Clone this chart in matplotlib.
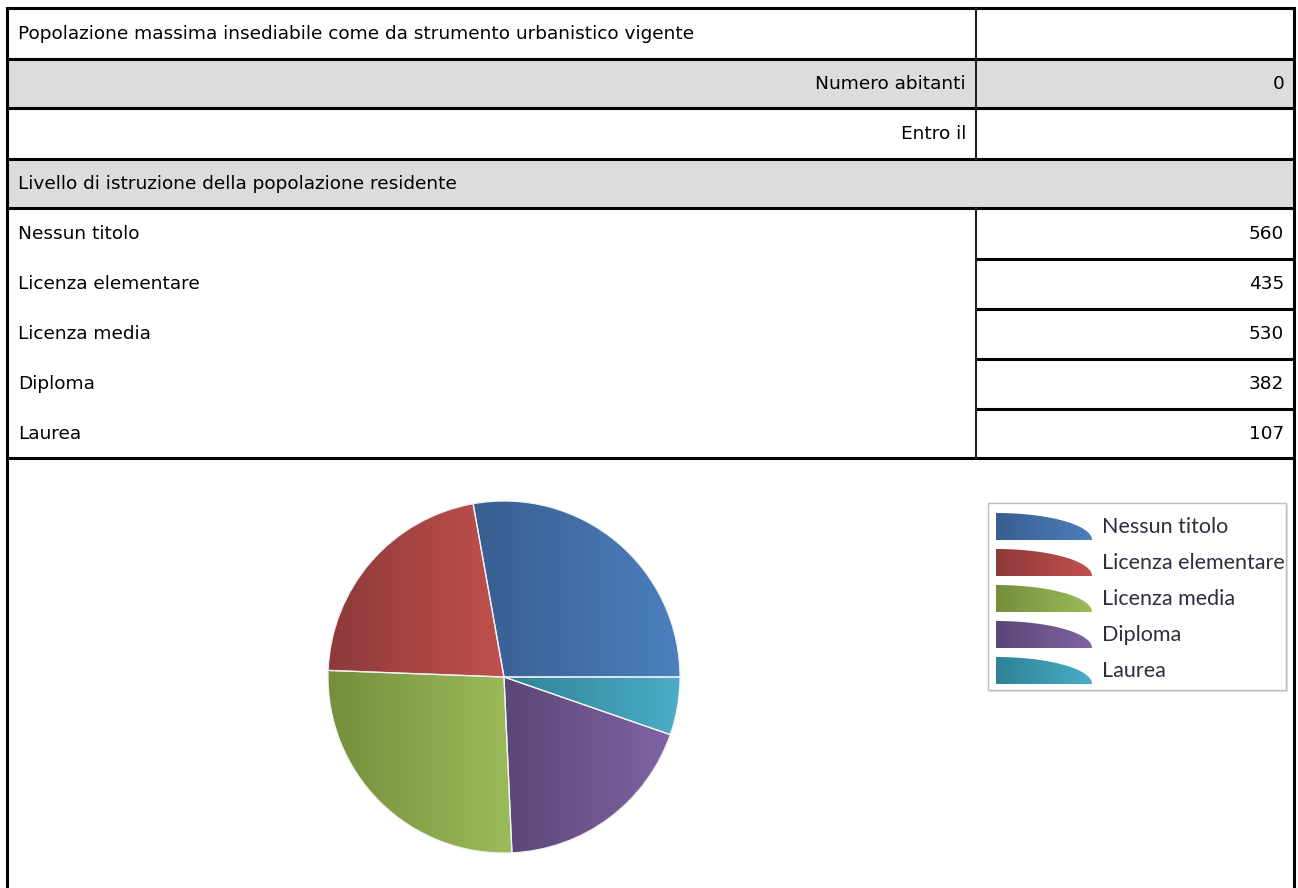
import numpy as np
import matplotlib
matplotlib.use("Agg")
import matplotlib.pyplot as plt
from matplotlib.patches import Rectangle, Polygon
from matplotlib.colors import LinearSegmentedColormap

# ---- data ----
header_title = "Popolazione massima insediabile come da strumento urbanistico vigente"
abitanti_label = "Numero abitanti"
abitanti_value = "0"
entro_label = "Entro il"
entro_value = ""
section_title = "Livello di istruzione della popolazione residente"
categories = ["Nessun titolo", "Licenza elementare", "Licenza media", "Diploma", "Laurea"]
values = [560, 435, 530, 382, 107]
dark_colors = ["#395e90", "#8d3a3a", "#748e3b", "#5a4677", "#2e8296"]
light_colors = ["#4b7fbd", "#c1504d", "#9cbc5a", "#8064a3", "#4badc7"]

W, H = 1298, 888
fig = plt.figure(figsize=(W / 100, H / 100), dpi=100)
fig.patch.set_facecolor("white")

# overlay axes in pixel coordinates
ax0 = fig.add_axes([0, 0, 1, 1])
ax0.set_xlim(0, W)
ax0.set_ylim(H, 0)
ax0.axis("off")

FONT = "DejaVu Sans"
FS = 13.3
x0, x1, xd = 7, 1294, 976
gray = "#dcdcdc"
lw_h = 2.2
lw_v = 1.5

# gray rows
ax0.add_patch(Rectangle((x0, 59), x1 - x0, 49, facecolor=gray, edgecolor="none", zorder=1))
ax0.add_patch(Rectangle((x0, 159), x1 - x0, 49, facecolor=gray, edgecolor="none", zorder=1))

# horizontal lines
for y in [8, 59, 108, 159, 208, 458]:
    ax0.plot([x0, x1], [y, y], color="black", lw=lw_h, solid_capstyle="butt", zorder=3)
for y in [259, 309, 359, 409]:
    ax0.plot([xd, x1], [y, y], color="black", lw=lw_h, solid_capstyle="butt", zorder=3)
# vertical lines
ax0.plot([x0, x0], [8, H], color="black", lw=lw_h, zorder=3)
ax0.plot([x1, x1], [8, H], color="black", lw=lw_h, zorder=3)
ax0.plot([xd, xd], [8, 159], color="#222222", lw=lw_v, zorder=3)
ax0.plot([xd, xd], [208, 458], color="#222222", lw=lw_v, zorder=3)

tkw = dict(fontsize=FS, family=FONT, color="black", va="center", zorder=4)
ax0.text(18, 34, header_title, ha="left", **tkw)
ax0.text(966, 84, abitanti_label, ha="right", **tkw)
ax0.text(1284, 84, abitanti_value, ha="right", **tkw)
ax0.text(966, 134, entro_label, ha="right", **tkw)
ax0.text(1284, 134, entro_value, ha="right", **tkw)
ax0.text(18, 184, section_title, ha="left", **tkw)
row_y = [234, 284, 334, 384, 434]
for lab, v, y in zip(categories, values, row_y):
    ax0.text(18, y, lab, ha="left", **tkw)
    ax0.text(1284, y, str(v), ha="right", **tkw)

# ---- pie ----
cx, cy, r_px = 504, 677, 176
L = 1.2
size = 2 * L * r_px
pie_ax = fig.add_axes([(cx - size / 2) / W, (H - cy - size / 2) / H, size / W, size / H])
wedges, _ = pie_ax.pie(values, startangle=0, counterclock=True, colors=light_colors,
                       wedgeprops=dict(edgecolor="#f2f2f2", linewidth=0.9))
grad = np.linspace(0, 1, 256).reshape(1, -1)
for w, dc, lc in zip(wedges, dark_colors, light_colors):
    ext = w.get_path().get_extents()
    cmap = LinearSegmentedColormap.from_list("g", [dc, lc])
    im = pie_ax.imshow(grad, cmap=cmap, extent=[ext.x0, ext.x1, ext.y0, ext.y1],
                       aspect="auto", zorder=1, interpolation="bilinear")
    im.set_clip_path(w)
    w.set_facecolor("none")
    w.set_zorder(2)
pie_ax.set_xlim(-L, L)
pie_ax.set_ylim(-L, L)
pie_ax.set_aspect("equal")
pie_ax.axis("off")

# ---- legend ----
lx0, ly0, lx1, ly1 = 988, 503, 1286, 690
ax0.add_patch(Rectangle((lx0 + 2, ly0 + 2), lx1 - lx0, ly1 - ly0, facecolor="#e4e4e4",
                        edgecolor="none", zorder=5))
leg_rect = Rectangle((lx0, ly0), lx1 - lx0, ly1 - ly0, facecolor="white",
                     edgecolor="#bcbcbc", lw=1.0, zorder=6)
ax0.add_patch(leg_rect)
sw_x0, sw_w, sw_h = 996, 96, 27
t = np.linspace(0, np.pi / 2, 60)
for i, (lab, dc, lc) in enumerate(zip(categories, dark_colors, light_colors)):
    top = 513 + 36 * i
    bot = top + sw_h
    pts = [(sw_x0, bot), (sw_x0 + sw_w, bot)] + [(sw_x0 + sw_w * np.cos(a), bot - sw_h * np.sin(a)) for a in t]
    poly = Polygon(pts, closed=True, facecolor="none", edgecolor="none", zorder=8)
    ax0.add_patch(poly)
    cmap = LinearSegmentedColormap.from_list("g", [dc, lc])
    im = ax0.imshow(grad, cmap=cmap, extent=[sw_x0, sw_x0 + sw_w, bot, top],
                    aspect="auto", zorder=7, interpolation="bilinear")
    im.set_clip_path(poly)
    txt = ax0.text(1102, top + sw_h / 2, lab, ha="left", va="center", fontsize=15.5,
                   family="Lato", color="#2e2e42", zorder=9)
    txt.set_clip_path(leg_rect)

ax0.set_xlim(0, W)
ax0.set_ylim(H, 0)
ax0.set_aspect("auto")

fig.savefig("out.png", dpi=100, facecolor="white")
